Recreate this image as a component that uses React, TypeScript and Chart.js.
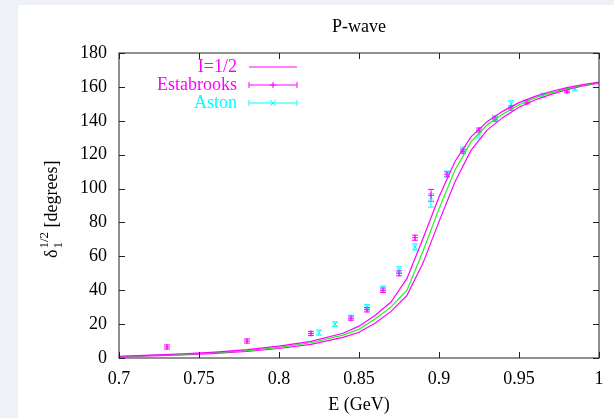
import React, { useEffect, useRef } from 'react';
import { Chart, registerables } from 'chart.js';

Chart.register(...registerables);

// ---- Data ----
const curveE = [0.70, 0.72, 0.74, 0.76, 0.78, 0.80, 0.82, 0.84, 0.85, 0.86, 0.87, 0.88, 0.89, 0.90, 0.91, 0.92, 0.93, 0.94, 0.95, 0.96, 0.97, 0.98, 0.99, 1.00];
const curveCentral = [0.8, 1.5, 2.2, 3.1, 4.4, 6.3, 9.0, 13.5, 17, 23, 30, 40, 63, 88, 111, 127.5, 137.5, 144, 149.5, 153.5, 156.5, 159, 161, 162.5];
const curveUpper = [1.0, 1.7, 2.5, 3.5, 4.9, 7.0, 9.8, 14.6, 18.8, 25.1, 33, 47, 70.5, 95, 116, 130.5, 139.5, 145.7, 150.7, 154.4, 157.3, 159.6, 161.4, 162.8];
const curveLower = [0.6, 1.3, 1.9, 2.7, 3.9, 5.6, 8.0, 12.2, 15.2, 20.5, 27.5, 37, 56, 80.5, 104, 122.5, 134.5, 142, 148, 152.3, 155.6, 158.4, 160.6, 162.2];

const estabE = [0.73, 0.78, 0.82, 0.845, 0.855, 0.865, 0.875, 0.885, 0.895, 0.905, 0.915, 0.925, 0.935, 0.945, 0.955, 0.98];
const estabVal = [6.5, 10, 14.5, 23.5, 28.5, 40, 50, 71, 96, 108.5, 122, 134.5, 141, 147.5, 151, 157.5];
const estabErr = [1.2, 1.2, 1.2, 1.2, 1.3, 1.3, 1.5, 1.5, 3.5, 1.5, 1.2, 1.2, 1.2, 1.2, 1.0, 1.0];

const astonE = [0.825, 0.835, 0.845, 0.855, 0.865, 0.875, 0.885, 0.895, 0.905, 0.915, 0.925, 0.935, 0.945, 0.965, 0.985];
const astonVal = [15, 20, 24, 30, 41, 52, 65.5, 93, 108.5, 123, 132, 141.5, 150, 155, 159];
const astonErr = [1.5, 1.3, 1.3, 1.5, 1.5, 1.8, 1.8, 4.0, 1.8, 1.5, 2.2, 1.5, 1.8, 1.3, 1.3];

const xTicks = [0.7, 0.75, 0.8, 0.85, 0.9, 0.95, 1.0];
const xTickLabels = ['0.7', '0.75', '0.8', '0.85', '0.9', '0.95', '1'];
const yTicks = [0, 20, 40, 60, 80, 100, 120, 140, 160, 180];
const yTickLabels = ['0', '20', '40', '60', '80', '100', '120', '140', '160', '180'];

const MAGENTA = '#ff00ff';
const CYAN = '#00ffff';
const GREEN = '#22ee22';
const FONT = "'Liberation Serif', 'DejaVu Serif', serif";

function drawMarker(ctx: CanvasRenderingContext2D, x: number, y: number, kind: 'plus' | 'x', r: number) {
  ctx.beginPath();
  if (kind === 'plus') {
    ctx.moveTo(x - r, y); ctx.lineTo(x + r, y);
    ctx.moveTo(x, y - r); ctx.lineTo(x, y + r);
  } else {
    ctx.moveTo(x - r, y - r); ctx.lineTo(x + r, y + r);
    ctx.moveTo(x - r, y + r); ctx.lineTo(x + r, y - r);
  }
  ctx.stroke();
}

const gnuplotPlugin = {
  id: 'gnuplotLook',
  beforeDatasetsDraw(chart: any) {
    const ctx: CanvasRenderingContext2D = chart.ctx;
    const xs = chart.scales.x;
    const ys = chart.scales.y;
    const a = chart.chartArea;
    ctx.save();
    ctx.beginPath();
    ctx.rect(a.left, a.top, a.right - a.left, a.bottom - a.top);
    ctx.clip();
    const drawErr = (es: number[], vs: number[], errs: number[], color: string) => {
      ctx.strokeStyle = color;
      ctx.lineWidth = 1;
      es.forEach((e, i) => {
        const px = xs.getPixelForValue(e);
        const y1 = ys.getPixelForValue(vs[i] - errs[i]);
        const y2 = ys.getPixelForValue(vs[i] + errs[i]);
        ctx.beginPath();
        ctx.moveTo(px, y1); ctx.lineTo(px, y2);
        ctx.moveTo(px - 3, y1); ctx.lineTo(px + 3, y1);
        ctx.moveTo(px - 3, y2); ctx.lineTo(px + 3, y2);
        ctx.stroke();
      });
    };
    drawErr(estabE, estabVal, estabErr, MAGENTA);
    drawErr(astonE, astonVal, astonErr, CYAN);
    ctx.restore();
  },
  afterDraw(chart: any) {
    const ctx: CanvasRenderingContext2D = chart.ctx;
    const xs = chart.scales.x;
    const ys = chart.scales.y;
    const a = chart.chartArea;
    ctx.save();
    // frame
    ctx.strokeStyle = '#555';
    ctx.lineWidth = 1.3;
    ctx.strokeRect(a.left, a.top, a.right - a.left, a.bottom - a.top);
    // ticks (inward, mirrored)
    ctx.strokeStyle = '#222';
    ctx.lineWidth = 1;
    ctx.beginPath();
    xTicks.forEach((v) => {
      const px = Math.round(xs.getPixelForValue(v)) + 0.5;
      ctx.moveTo(px, a.bottom); ctx.lineTo(px, a.bottom - 6);
      ctx.moveTo(px, a.top); ctx.lineTo(px, a.top + 6);
    });
    yTicks.forEach((v) => {
      const py = Math.round(ys.getPixelForValue(v)) + 0.5;
      ctx.moveTo(a.left, py); ctx.lineTo(a.left + 6, py);
      ctx.moveTo(a.right, py); ctx.lineTo(a.right - 6, py);
    });
    ctx.stroke();

    // title
    const cx = (a.left + a.right) / 2;
    ctx.fillStyle = '#000';
    ctx.font = `18px ${FONT}`;
    ctx.textAlign = 'center';
    ctx.textBaseline = 'middle';
    ctx.fillText('P-wave', cx, 22);
    // x title
    ctx.fillText('E (GeV)', cx, 400);

    // y title (rotated, with sub/superscripts)
    ctx.save();
    ctx.translate(39, 253);
    ctx.rotate(-Math.PI / 2);
    ctx.textAlign = 'left';
    ctx.textBaseline = 'alphabetic';
    ctx.font = `18px ${FONT}`;
    ctx.fillText('δ', 0, 0);
    const dw = ctx.measureText('δ').width;
    ctx.font = `13px ${FONT}`;
    ctx.fillText('1', dw + 1, 5);
    ctx.fillText('1/2', dw + 1, -9);
    const sw = Math.max(ctx.measureText('1').width, ctx.measureText('1/2').width);
    ctx.font = `18px ${FONT}`;
    ctx.fillText(' [degrees]', dw + 1 + sw, 0);
    ctx.restore();

    // legend
    const textRight = 219;
    const sx1 = 231;
    const sx2 = 279;
    const rows = [62, 80, 98];
    ctx.font = `18px ${FONT}`;
    ctx.textAlign = 'right';
    ctx.textBaseline = 'middle';
    ctx.fillStyle = MAGENTA;
    ctx.fillText('I=1/2', textRight, rows[0]);
    ctx.fillText('Estabrooks', textRight, rows[1]);
    ctx.fillStyle = CYAN;
    ctx.fillText('Aston', textRight, rows[2]);

    ctx.lineWidth = 1.2;
    ctx.strokeStyle = MAGENTA;
    ctx.beginPath();
    ctx.moveTo(sx1, rows[0]); ctx.lineTo(sx2, rows[0]);
    ctx.stroke();

    const errSample = (y: number, color: string, kind: 'plus' | 'x') => {
      ctx.strokeStyle = color;
      ctx.lineWidth = 1;
      ctx.beginPath();
      ctx.moveTo(sx1, y); ctx.lineTo(sx2, y);
      ctx.moveTo(sx1, y - 3); ctx.lineTo(sx1, y + 3);
      ctx.moveTo(sx2, y - 3); ctx.lineTo(sx2, y + 3);
      ctx.stroke();
      drawMarker(ctx, (sx1 + sx2) / 2, y, kind, 3);
    };
    errSample(rows[1], MAGENTA, 'plus');
    errSample(rows[2], CYAN, 'x');
    ctx.restore();
  },
};

export default function App() {
  const canvasRef = useRef<HTMLCanvasElement | null>(null);

  useEffect(() => {
    const canvas = canvasRef.current;
    if (!canvas) return;
    const toXY = (xs: number[], ys: number[]) => xs.map((x, i) => ({ x, y: ys[i] }));
    const curveStyle = (color: string) => ({
      showLine: true,
      borderColor: color,
      backgroundColor: color,
      borderWidth: 1.2,
      pointRadius: 0,
      tension: 0,
      fill: false,
    });
    const chart = new Chart(canvas, {
      type: 'scatter',
      data: {
        datasets: [
          { label: 'I=1/2 upper', data: toXY(curveE, curveUpper), ...curveStyle(MAGENTA) },
          { label: 'I=1/2 central', data: toXY(curveE, curveCentral), ...curveStyle(GREEN) },
          { label: 'I=1/2 lower', data: toXY(curveE, curveLower), ...curveStyle(MAGENTA) },
          {
            label: 'Estabrooks',
            data: toXY(estabE, estabVal),
            pointStyle: 'cross',
            pointRadius: 3,
            borderColor: MAGENTA,
            backgroundColor: MAGENTA,
            borderWidth: 1,
            showLine: false,
          },
          {
            label: 'Aston',
            data: toXY(astonE, astonVal),
            pointStyle: 'crossRot',
            pointRadius: 3,
            borderColor: CYAN,
            backgroundColor: CYAN,
            borderWidth: 1,
            showLine: false,
          },
        ],
      },
      options: {
        animation: false,
        responsive: false,
        devicePixelRatio: 1,
        layout: { padding: { top: 48, right: 15, left: 0, bottom: 0 } },
        plugins: {
          legend: { display: false },
          tooltip: { enabled: false },
          title: { display: false },
        },
        scales: {
          x: {
            type: 'linear',
            min: 0.7,
            max: 1.0,
            grid: { display: false, drawTicks: false },
            border: { display: false },
            afterBuildTicks: (s: any) => { s.ticks = xTicks.map((v) => ({ value: v })); },
            afterFit: (s: any) => { s.height = 60; },
            ticks: {
              padding: 10,
              color: '#000',
              font: { family: FONT, size: 18 },
              maxRotation: 0,
              autoSkip: false,
              callback: (v: any) => {
                const i = xTicks.findIndex((t) => Math.abs(t - Number(v)) < 1e-6);
                return i >= 0 ? xTickLabels[i] : '';
              },
            },
          },
          y: {
            type: 'linear',
            min: 0,
            max: 180,
            grid: { display: false, drawTicks: false },
            border: { display: false },
            afterBuildTicks: (s: any) => { s.ticks = yTicks.map((v) => ({ value: v })); },
            afterFit: (s: any) => { s.width = 101; },
            ticks: {
              padding: 12,
              color: '#000',
              font: { family: FONT, size: 18 },
              autoSkip: false,
              callback: (v: any) => {
                const i = yTicks.findIndex((t) => Math.abs(t - Number(v)) < 1e-6);
                return i >= 0 ? yTickLabels[i] : '';
              },
            },
          },
        },
      },
      plugins: [gnuplotPlugin],
    } as any);
    return () => chart.destroy();
  }, []);

  return (
    <div
      style={{
        position: 'fixed',
        left: 0,
        top: 0,
        width: 614,
        height: 418,
        background: '#eef2f8',
        overflow: 'hidden',
      }}
    >
      <canvas
        ref={canvasRef}
        width={596}
        height={413}
        style={{ position: 'absolute', left: 18, top: 5, width: 596, height: 413, background: '#ffffff' }}
      />
    </div>
  );
}
